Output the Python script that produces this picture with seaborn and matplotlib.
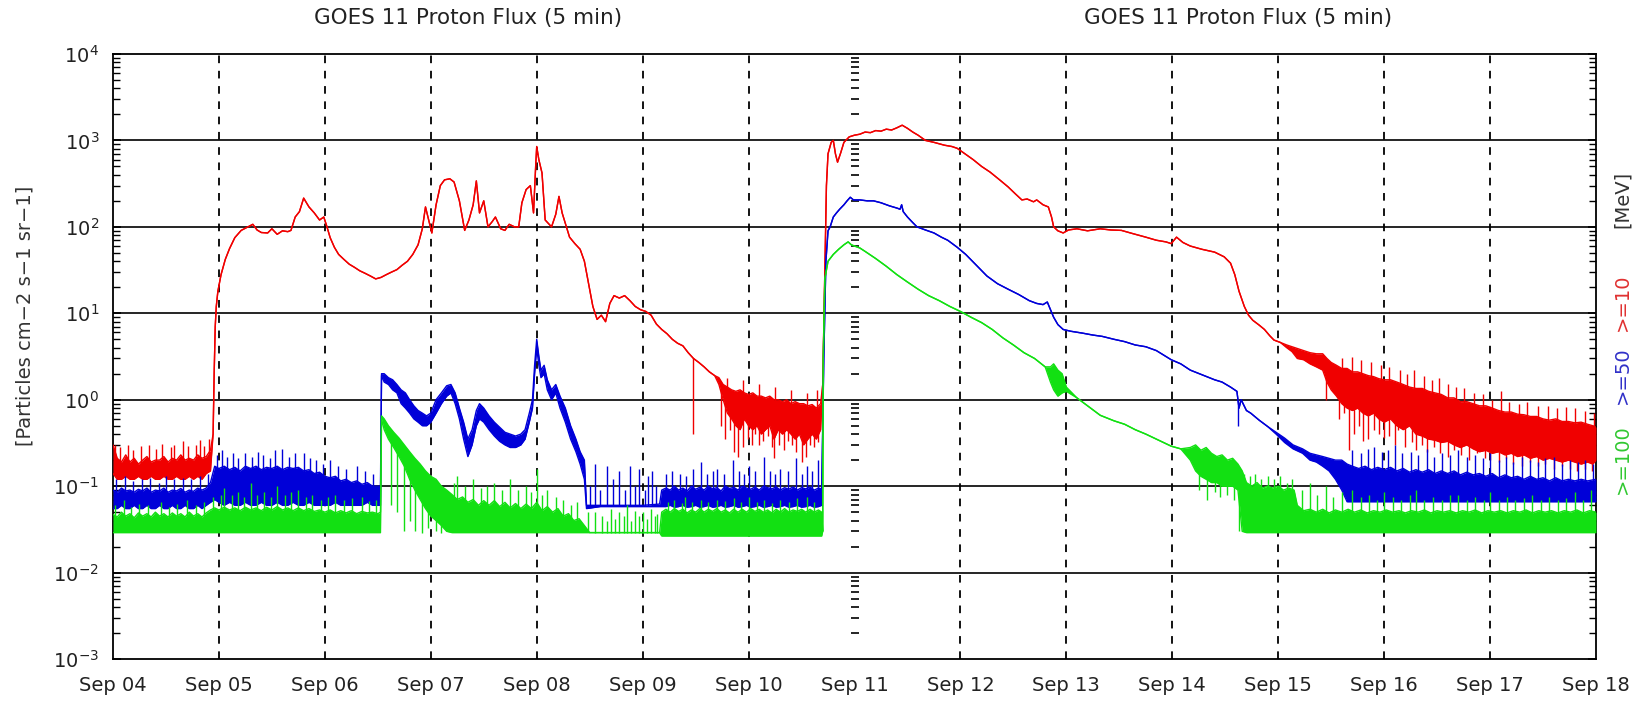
import numpy as np
import pandas as pd
import matplotlib
matplotlib.use("Agg")
import matplotlib.pyplot as plt
from matplotlib.ticker import LogLocator, NullFormatter, FixedLocator
import seaborn as sns

# ---------------------------------------------------------------- data
# time in days after 2005-09-04 00:00 UT, flux in particles cm-2 s-1 sr-1
day_labels = ["Sep 04", "Sep 05", "Sep 06", "Sep 07", "Sep 08", "Sep 09", "Sep 10",
              "Sep 11", "Sep 12", "Sep 13", "Sep 14", "Sep 15", "Sep 16", "Sep 17", "Sep 18"]

# >=10 MeV : lower / upper envelope of the 5-min trace
red_t = [0.00, 0.04, 0.08, 0.12, 0.16, 0.20, 0.24, 0.28, 0.32, 0.36, 0.40, 0.44, 0.48, 0.52,
         0.56, 0.60, 0.64, 0.68, 0.72, 0.76, 0.80, 0.84, 0.88, 0.92, 0.945, 0.955, 0.965, 0.975,
         0.99, 1.02, 1.06, 1.10, 1.15, 1.21, 1.26, 1.32, 1.36, 1.40, 1.46, 1.50, 1.55, 1.60,
         1.65, 1.68, 1.72, 1.76, 1.80, 1.85, 1.90, 1.95, 1.99, 2.02, 2.05, 2.09, 2.13, 2.18,
         2.23, 2.28, 2.33, 2.38, 2.43, 2.48, 2.53, 2.58, 2.63, 2.68, 2.73, 2.78, 2.83, 2.88,
         2.92, 2.95, 2.98, 3.01, 3.05, 3.09, 3.13, 3.18, 3.22, 3.27, 3.32, 3.36, 3.40, 3.43,
         3.46, 3.50, 3.54, 3.58, 3.61, 3.66, 3.70, 3.74, 3.79, 3.83, 3.86, 3.90, 3.94, 3.97,
         3.99, 4.00, 4.02, 4.05, 4.08, 4.14, 4.18, 4.21, 4.24, 4.28, 4.31, 4.36, 4.41, 4.45,
         4.49, 4.53, 4.57, 4.61, 4.65, 4.69, 4.73, 4.78, 4.83, 4.88, 4.93, 4.98, 5.03, 5.08,
         5.13, 5.18, 5.23, 5.28, 5.33, 5.38, 5.43, 5.48, 5.53, 5.58, 5.63, 5.68, 5.72, 5.76,
         5.80, 5.84, 5.88, 5.92, 5.96, 6.00, 6.04, 6.08, 6.12, 6.16, 6.20, 6.24, 6.28, 6.32,
         6.36, 6.40, 6.44, 6.48, 6.52, 6.56, 6.60, 6.64, 6.68, 6.70, 6.72, 6.735, 6.75, 6.78,
         6.80, 6.82, 6.84, 6.87, 6.90, 6.95, 7.00, 7.05, 7.10, 7.15, 7.20, 7.25, 7.30, 7.35,
         7.40, 7.45, 7.50, 7.55, 7.60, 7.67, 7.75, 7.85, 7.92, 7.97, 8.05, 8.12, 8.20, 8.28,
         8.37, 8.45, 8.52, 8.58, 8.63, 8.69, 8.72, 8.78, 8.83, 8.86, 8.88, 8.92, 8.97, 9.02,
         9.10, 9.20, 9.32, 9.42, 9.52, 9.62, 9.75, 9.85, 9.94, 9.99, 10.04, 10.10, 10.17, 10.28,
         10.40, 10.49, 10.55, 10.59, 10.63, 10.68, 10.72, 10.76, 10.82, 10.87, 10.92, 10.96,
         11.02, 11.08, 11.13, 11.18, 11.24, 11.30, 11.36, 11.42, 11.46, 11.50, 11.55, 11.60,
         11.65, 11.70, 11.75, 11.80, 11.85, 11.90, 11.95, 12.00, 12.06, 12.12, 12.18, 12.24,
         12.30, 12.36, 12.42, 12.48, 12.54, 12.60, 12.66, 12.72, 12.78, 12.84, 12.90, 12.96,
         13.02, 13.08, 13.14, 13.20, 13.26, 13.32, 13.38, 13.44, 13.50, 13.56, 13.62, 13.68,
         13.74, 13.80, 13.86, 13.92, 13.97, 14.00]
red_lo = [0.14, 0.12, 0.12, 0.13, 0.12, 0.12, 0.13, 0.12, 0.12, 0.13, 0.12, 0.12, 0.13, 0.12,
          0.12, 0.13, 0.12, 0.12, 0.13, 0.12, 0.13, 0.12, 0.14, 0.15, 0.4, 2, 7, 12,
          18, 28, 42, 56, 75, 91, 98, 107, 92, 86, 85, 95, 82, 90,
          88, 91, 130, 150, 215, 170, 145, 120, 130, 100, 75, 58, 48, 42,
          37, 34, 31, 29, 27, 25, 26, 28, 30, 32, 36, 40, 48, 62,
          95, 170, 120, 85, 180, 300, 350, 360, 330, 200, 91, 120, 180, 340,
          145, 200, 100, 115, 130, 95, 91, 107, 100, 100, 190, 270, 300, 145,
          500, 850, 600, 420, 120, 100, 140, 225, 145, 100, 76, 64, 55, 40,
          22, 12, 8.5, 9.5, 8, 13, 16, 15, 16, 14, 12, 11, 10.5, 9.5,
          7.5, 6.5, 5.8, 5.0, 4.5, 4.2, 3.5, 3.0, 2.7, 2.4, 2.1, 1.9, 1.5, 1.0,
          0.7, 0.6, 0.5, 0.45, 0.6, 0.5, 0.45, 0.5, 0.4, 0.45, 0.5, 0.35, 0.45, 0.4,
          0.45, 0.4, 0.35, 0.4, 0.3, 0.35, 0.4, 0.35, 0.45, 1.5, 30, 300, 700, 950,
          1000, 700, 560, 720, 950, 1100, 1150, 1180, 1250, 1230, 1300, 1280, 1350, 1320,
          1400, 1500, 1380, 1250, 1150, 1000, 950, 880, 850, 810, 690, 600, 500, 430,
          350, 290, 240, 205, 210, 195, 205, 180, 170, 130, 100, 90, 85, 92,
          95, 90, 95, 92, 91, 84, 76, 70, 67, 64, 76, 66, 60, 55,
          51, 45, 38, 28, 18, 12, 9.5, 8.3, 7.3, 6.5, 5.5, 4.9,
          4.6, 4.0, 3.6, 3.0, 2.9, 2.6, 2.4, 2.2, 1.6, 1.3, 1.1, 0.9,
          0.8, 0.75, 0.8, 0.7, 0.65, 0.7, 0.6, 0.55, 0.6, 0.5, 0.45, 0.5,
          0.4, 0.38, 0.35, 0.34, 0.32, 0.33, 0.3, 0.28, 0.3, 0.27, 0.25, 0.26,
          0.24, 0.25, 0.23, 0.24, 0.22, 0.23, 0.21, 0.22, 0.2, 0.21, 0.2, 0.19,
          0.2, 0.19, 0.18, 0.19, 0.18, 0.2]
red_hi = [0.30, 0.21, 0.19, 0.23, 0.19, 0.21, 0.18, 0.20, 0.22, 0.19, 0.2, 0.20, 0.22, 0.19,
          0.21, 0.2, 0.23, 0.20, 0.21, 0.2, 0.23, 0.21, 0.22, 0.26, 0.4, 2, 7, 12,
          18, 28, 42, 56, 75, 91, 98, 107, 92, 86, 85, 95, 82, 90,
          88, 91, 130, 150, 215, 170, 145, 120, 130, 100, 75, 58, 48, 42,
          37, 34, 31, 29, 27, 25, 26, 28, 30, 32, 36, 40, 48, 62,
          95, 170, 120, 85, 180, 300, 350, 360, 330, 200, 91, 120, 180, 340,
          145, 200, 100, 115, 130, 95, 91, 107, 100, 100, 190, 270, 300, 145,
          500, 850, 600, 420, 120, 100, 140, 225, 145, 100, 76, 64, 55, 40,
          22, 12, 8.5, 9.5, 8, 13, 16, 15, 16, 14, 12, 11, 10.5, 9.5,
          7.5, 6.5, 5.8, 5.0, 4.5, 4.2, 3.5, 3.0, 2.7, 2.4, 2.1, 1.9, 1.8, 1.5,
          1.4, 1.3, 1.25, 1.3, 1.2, 1.15, 1.2, 1.1, 1.1, 1.05, 1.1, 1.0, 1.0, 0.95,
          1.0, 0.9, 0.95, 0.9, 0.9, 0.85, 0.88, 0.8, 0.9, 1.5, 30, 300, 700, 950,
          1000, 700, 560, 720, 950, 1100, 1150, 1180, 1250, 1230, 1300, 1280, 1350, 1320,
          1400, 1500, 1380, 1250, 1150, 1000, 950, 880, 850, 810, 690, 600, 500, 430,
          350, 290, 240, 205, 210, 195, 205, 180, 170, 130, 100, 90, 85, 92,
          95, 90, 95, 92, 91, 84, 76, 70, 67, 64, 76, 66, 60, 55,
          51, 45, 38, 28, 18, 12, 9.5, 8.3, 7.3, 6.5, 5.5, 4.9,
          4.6, 4.3, 4.1, 3.9, 3.7, 3.5, 3.4, 3.4, 3.0, 2.7, 2.5, 2.3,
          2.3, 2.1, 2.1, 2.0, 1.9, 1.85, 1.75, 1.7, 1.7, 1.6, 1.5, 1.4,
          1.35, 1.35, 1.25, 1.2, 1.15, 1.05, 1.05, 0.95, 0.95, 0.9, 0.85, 0.85,
          0.8, 0.75, 0.72, 0.72, 0.68, 0.67, 0.64, 0.64, 0.6, 0.58, 0.6, 0.56,
          0.56, 0.54, 0.55, 0.52, 0.5, 0.48]
red_spike_t = [0.02, 0.07, 0.14, 0.19, 0.26, 0.34, 0.41, 0.46, 0.55, 0.58, 0.66, 0.71, 0.78,
               0.82, 0.86, 0.91,
               5.48, 5.74, 5.78, 5.82, 5.86, 5.90, 5.95, 5.99, 6.03, 6.06, 6.10, 6.14, 6.18,
               6.22, 6.24, 6.29, 6.33, 6.37, 6.41, 6.45, 6.50, 6.54, 6.58, 6.62, 6.66,
               5.80, 5.95, 6.10, 6.25, 6.40, 6.55, 6.65,
               11.45, 11.52, 11.57, 11.62, 11.67, 11.72, 11.76, 11.80, 11.85, 11.90, 11.95,
               12.00, 12.05, 12.10, 12.13, 12.20, 12.26, 12.30, 12.36, 12.40, 12.47, 12.53,
               12.60, 12.66, 12.73, 12.80, 12.88, 12.95, 13.00, 13.08, 13.15, 13.22, 13.30,
               13.38, 13.45, 13.52, 13.60, 13.68, 13.75, 13.82, 13.90, 13.96,
               11.60, 11.70, 11.78, 11.88, 11.97, 12.05, 12.15, 12.22, 12.28, 12.38, 12.45,
               12.52, 12.60, 12.68, 12.75, 12.85, 12.93, 13.02, 13.10, 13.18, 13.27, 13.35,
               13.45, 13.55, 13.63, 13.72, 13.80, 13.90, 13.98]
red_spike_v = [0.30, 0.28, 0.30, 0.26, 0.29, 0.30, 0.27, 0.31, 0.28, 0.30, 0.33, 0.29, 0.30,
               0.34, 0.29, 0.35,
               0.40, 0.50, 0.35, 0.45, 0.25, 0.22, 0.28, 0.35, 0.30, 0.40, 0.30, 0.33, 0.38,
               0.28, 0.21, 0.30, 0.26, 0.33, 0.30, 0.25, 0.19, 0.22, 0.30, 0.28, 0.32,
               1.8, 1.7, 1.5, 1.4, 1.3, 1.2, 1.3,
               1.0, 1.3, 0.6, 0.7, 0.26, 0.40, 0.50, 0.33, 0.35, 0.45, 0.40,
               0.36, 0.38, 0.30, 0.45, 0.28, 0.32, 0.26, 0.30, 0.25, 0.28, 0.24,
               0.22, 0.26, 0.23, 0.20, 0.24, 0.21, 0.20, 0.19, 0.21, 0.18, 0.17,
               0.19, 0.17, 0.18, 0.16, 0.17, 0.16, 0.15, 0.16, 0.15,
               3.0, 3.1, 2.9, 2.7, 2.5, 2.4, 2.2, 2.0, 2.2, 1.9, 1.7,
               1.8, 1.5, 1.4, 1.35, 1.2, 1.15, 1.0, 1.25, 0.95, 0.9, 0.95,
               0.85, 0.85, 0.8, 0.82, 0.8, 0.75, 0.7]

# >=50 MeV
blue_t = [0.00, 0.04, 0.08, 0.12, 0.16, 0.20, 0.24, 0.28, 0.32, 0.36, 0.40, 0.44, 0.48, 0.52,
          0.56, 0.60, 0.64, 0.68, 0.72, 0.76, 0.80, 0.84, 0.88, 0.92, 0.96, 1.00, 1.05, 1.10,
          1.15, 1.20, 1.25, 1.30, 1.35, 1.40, 1.45, 1.50, 1.55, 1.60, 1.65, 1.70, 1.75, 1.80,
          1.85, 1.90, 1.95, 2.00, 2.05, 2.10, 2.15, 2.20, 2.25, 2.30, 2.35, 2.40, 2.45, 2.50,
          2.525, 2.535, 2.56, 2.60, 2.64, 2.68, 2.72, 2.76, 2.80, 2.84, 2.88, 2.92, 2.96, 3.00,
          3.05, 3.10, 3.15, 3.19, 3.23, 3.27, 3.31, 3.35, 3.39, 3.43, 3.46, 3.50, 3.55, 3.60,
          3.65, 3.70, 3.75, 3.80, 3.85, 3.89, 3.93, 3.96, 3.98, 4.00, 4.02, 4.04, 4.07, 4.10,
          4.14, 4.18, 4.22, 4.27, 4.32, 4.37, 4.41, 4.45, 4.47, 4.60, 4.80, 5.00, 5.16, 5.18,
          5.22, 5.26, 5.30, 5.34, 5.38, 5.42, 5.46, 5.50, 5.54, 5.58, 5.62, 5.66, 5.70, 5.74,
          5.78, 5.82, 5.86, 5.90, 5.94, 5.98, 6.02, 6.06, 6.10, 6.14, 6.18, 6.22, 6.26, 6.30,
          6.34, 6.38, 6.42, 6.46, 6.50, 6.54, 6.58, 6.62, 6.66, 6.69, 6.71, 6.73, 6.75, 6.77,
          6.80, 6.83, 6.86, 6.90, 6.93, 6.96, 6.99, 7.05, 7.12, 7.18, 7.25, 7.33, 7.40, 7.43,
          7.445, 7.46, 7.50, 7.55, 7.59, 7.67, 7.75, 7.82, 7.88, 7.97, 8.05, 8.15, 8.25, 8.35,
          8.45, 8.55, 8.65, 8.72, 8.78, 8.82, 8.85, 8.88, 8.92, 8.97, 9.04, 9.15, 9.25, 9.34,
          9.45, 9.55, 9.65, 9.75, 9.85, 9.99, 10.08, 10.17, 10.30, 10.40, 10.47, 10.55, 10.61,
          10.63, 10.65, 10.70, 10.74, 10.82, 10.90, 10.98, 11.06, 11.14, 11.23, 11.30, 11.36,
          11.42, 11.48, 11.54, 11.60, 11.65, 11.70, 11.76, 11.82, 11.88, 11.94, 12.00, 12.06,
          12.12, 12.18, 12.24, 12.30, 12.36, 12.42, 12.48, 12.54, 12.60, 12.66, 12.72, 12.78,
          12.84, 12.90, 12.96, 13.02, 13.08, 13.14, 13.20, 13.26, 13.32, 13.38, 13.44, 13.50,
          13.56, 13.62, 13.68, 13.74, 13.80, 13.86, 13.92, 14.00]
blue_lo = [0.055, 0.055, 0.06, 0.055, 0.055, 0.06, 0.055, 0.055, 0.06, 0.055, 0.055, 0.06, 0.055, 0.055,
           0.06, 0.055, 0.055, 0.06, 0.055, 0.055, 0.06, 0.055, 0.06, 0.065, 0.07, 0.065, 0.06, 0.065,
           0.06, 0.06, 0.065, 0.06, 0.06, 0.065, 0.06, 0.06, 0.065, 0.06, 0.06, 0.065, 0.06, 0.06,
           0.065, 0.06, 0.06, 0.06, 0.06, 0.065, 0.06, 0.06, 0.06, 0.06, 0.06, 0.065, 0.06, 0.06,
           0.06, 1.9, 1.6, 1.5, 1.3, 1.2, 0.9, 0.8, 0.7, 0.6, 0.55, 0.5, 0.5, 0.55,
           0.7, 0.9, 1.1, 1.2, 0.9, 0.6, 0.35, 0.22, 0.3, 0.5, 0.6, 0.55, 0.45, 0.38,
           0.33, 0.3, 0.28, 0.28, 0.3, 0.35, 0.55, 0.8, 2.0, 4.0, 2.5, 1.8, 2.0, 1.3,
           1.0, 1.2, 0.8, 0.55, 0.35, 0.25, 0.18, 0.12, 0.055, 0.058, 0.058, 0.058, 0.058, 0.058,
           0.058, 0.06, 0.057, 0.058, 0.06, 0.057, 0.058, 0.06, 0.057, 0.058, 0.06, 0.057, 0.058, 0.06,
           0.057, 0.058, 0.06, 0.057, 0.058, 0.06, 0.057, 0.058, 0.06, 0.057, 0.058, 0.06, 0.057, 0.058,
           0.06, 0.057, 0.058, 0.06, 0.057, 0.058, 0.06, 0.057, 0.058, 0.06, 3, 40, 90, 100,
           130, 145, 160, 180, 200, 220, 205, 205, 200, 200, 190, 175, 165, 160,
           180, 150, 130, 112, 100, 92, 85, 76, 70, 58, 48, 36, 27, 22,
           19, 16.5, 14, 13, 12.6, 13.5, 11, 9, 7.4, 6.5, 6.2, 5.9, 5.6, 5.4,
           5.0, 4.7, 4.3, 4.1, 3.7, 2.9, 2.6, 2.2, 1.9, 1.7, 1.6, 1.4, 1.25,
           0.8, 1.0, 0.75, 0.7, 0.58, 0.49, 0.4, 0.32, 0.27, 0.24, 0.2, 0.19,
           0.17, 0.15, 0.12, 0.09, 0.066, 0.066, 0.066, 0.066, 0.066, 0.066, 0.066, 0.066,
           0.066, 0.066, 0.066, 0.066, 0.066, 0.066, 0.066, 0.066, 0.066, 0.066, 0.066, 0.066,
           0.066, 0.066, 0.066, 0.066, 0.066, 0.066, 0.066, 0.066, 0.066, 0.066, 0.066, 0.066,
           0.066, 0.066, 0.066, 0.066, 0.066, 0.066, 0.066, 0.066]
blue_hi = [0.09, 0.085, 0.095, 0.088, 0.09, 0.085, 0.092, 0.088, 0.095, 0.085, 0.09, 0.088, 0.095, 0.085,
           0.09, 0.088, 0.094, 0.085, 0.09, 0.087, 0.095, 0.09, 0.095, 0.11, 0.17, 0.16, 0.17, 0.155,
           0.165, 0.15, 0.17, 0.16, 0.17, 0.155, 0.165, 0.16, 0.17, 0.155, 0.165, 0.16, 0.165, 0.15,
           0.155, 0.14, 0.145, 0.13, 0.125, 0.13, 0.115, 0.12, 0.11, 0.115, 0.105, 0.11, 0.10, 0.10,
           0.10, 2.0, 2.0, 1.8, 1.7, 1.5, 1.3, 1.2, 1.0, 0.85, 0.75, 0.7, 0.65, 0.7,
           1.0, 1.2, 1.45, 1.5, 1.2, 0.8, 0.55, 0.35, 0.45, 0.75, 0.9, 0.8, 0.65, 0.55,
           0.48, 0.42, 0.4, 0.38, 0.4, 0.45, 0.7, 1.0, 2.5, 5.0, 3.2, 2.2, 2.5, 1.7,
           1.3, 1.5, 1.1, 0.8, 0.5, 0.35, 0.25, 0.2, 0.06, 0.06, 0.06, 0.06, 0.062, 0.09,
           0.095, 0.09, 0.1, 0.09, 0.095, 0.088, 0.1, 0.092, 0.097, 0.09, 0.1, 0.093, 0.096, 0.088,
           0.1, 0.094, 0.097, 0.09, 0.1, 0.095, 0.092, 0.098, 0.09, 0.1, 0.096, 0.093, 0.098, 0.09,
           0.096, 0.092, 0.098, 0.09, 0.096, 0.093, 0.098, 0.09, 0.095, 0.093, 3, 40, 90, 100,
           130, 145, 160, 180, 200, 220, 205, 205, 200, 200, 190, 175, 165, 160,
           180, 150, 130, 112, 100, 92, 85, 76, 70, 58, 48, 36, 27, 22,
           19, 16.5, 14, 13, 12.6, 13.5, 11, 9, 7.4, 6.5, 6.2, 5.9, 5.6, 5.4,
           5.0, 4.7, 4.3, 4.1, 3.7, 2.9, 2.6, 2.2, 1.9, 1.7, 1.6, 1.4, 1.25,
           0.8, 1.0, 0.75, 0.7, 0.58, 0.49, 0.42, 0.36, 0.30, 0.27, 0.24, 0.23,
           0.22, 0.21, 0.20, 0.2, 0.18, 0.17, 0.16, 0.17, 0.155, 0.165, 0.155, 0.165,
           0.15, 0.16, 0.145, 0.155, 0.145, 0.155, 0.14, 0.15, 0.14, 0.15, 0.135, 0.145,
           0.135, 0.14, 0.13, 0.14, 0.125, 0.135, 0.125, 0.13, 0.12, 0.13, 0.12, 0.125,
           0.115, 0.125, 0.115, 0.12, 0.115, 0.12, 0.115, 0.12]
blue_spike_t = [0.03, 0.11, 0.19, 0.27, 0.35, 0.43, 0.50, 0.58, 0.66, 0.74, 0.82, 0.90, 0.98,
                1.03, 1.08, 1.13, 1.18, 1.25, 1.31, 1.37, 1.42, 1.48, 1.53, 1.60, 1.66, 1.72,
                1.80, 1.86, 1.92, 1.98, 2.05, 2.12, 2.20, 2.30, 2.38, 2.45,
                4.50, 4.55, 4.60, 4.66, 4.72, 4.78, 4.83, 4.88, 4.93, 4.97, 5.02, 5.05, 5.09, 5.13,
                5.22, 5.28, 5.35, 5.41, 5.48, 5.55, 5.61, 5.66, 5.70, 5.77, 5.85, 5.91, 5.96,
                6.00, 6.06, 6.15, 6.20, 6.25, 6.30, 6.37, 6.45, 6.50, 6.55, 6.60, 6.66,
                10.62,
                11.70, 11.78, 11.85, 11.90, 11.98, 12.04, 12.10, 12.17, 12.25, 12.32, 12.40,
                12.47, 12.55, 12.62, 12.70, 12.78, 12.86, 12.93, 13.00, 13.08, 13.15, 13.22,
                13.30, 13.38, 13.45, 13.52, 13.60, 13.68, 13.75, 13.83, 13.90, 13.97]
blue_spike_v = [0.12, 0.13, 0.115, 0.12, 0.125, 0.11, 0.13, 0.12, 0.125, 0.12, 0.13, 0.14, 0.23,
                0.26, 0.22, 0.24, 0.21, 0.24, 0.22, 0.25, 0.23, 0.21, 0.26, 0.27, 0.22, 0.24,
                0.24, 0.21, 0.20, 0.18, 0.20, 0.17, 0.16, 0.17, 0.15, 0.14,
                0.10, 0.18, 0.09, 0.17, 0.12, 0.15, 0.09, 0.17, 0.10, 0.16, 0.09, 0.13, 0.15, 0.10,
                0.14, 0.15, 0.14, 0.13, 0.16, 0.19, 0.14, 0.15, 0.16, 0.14, 0.20, 0.15, 0.14,
                0.17, 0.15, 0.22, 0.15, 0.14, 0.16, 0.15, 0.21, 0.14, 0.17, 0.15, 0.20,
                0.50,
                0.26, 0.24, 0.27, 0.28, 0.25, 0.26, 0.30, 0.24, 0.25, 0.23, 0.27,
                0.22, 0.24, 0.23, 0.26, 0.22, 0.23, 0.21, 0.24, 0.20, 0.22, 0.19,
                0.22, 0.20, 0.19, 0.21, 0.22, 0.18, 0.20, 0.19, 0.20, 0.18]

# >=100 MeV
green_t = [0.00, 0.04, 0.08, 0.12, 0.16, 0.20, 0.24, 0.28, 0.32, 0.36, 0.40, 0.44, 0.48, 0.52,
           0.56, 0.60, 0.64, 0.68, 0.72, 0.76, 0.80, 0.84, 0.88, 0.92, 0.96, 1.00, 1.05, 1.10,
           1.15, 1.20, 1.25, 1.30, 1.35, 1.40, 1.45, 1.50, 1.55, 1.60, 1.65, 1.70, 1.75, 1.80,
           1.85, 1.90, 1.95, 2.00, 2.05, 2.10, 2.15, 2.20, 2.25, 2.30, 2.35, 2.40, 2.45, 2.50,
           2.525, 2.535, 2.56, 2.60, 2.65, 2.70, 2.75, 2.80, 2.85, 2.90, 2.95, 3.00, 3.05, 3.10,
           3.15, 3.20, 3.25, 3.30, 3.35, 3.40, 3.45, 3.50, 3.55, 3.60, 3.65, 3.70, 3.75, 3.80,
           3.85, 3.90, 3.95, 4.00, 4.05, 4.10, 4.15, 4.20, 4.25, 4.30, 4.35, 4.40, 4.45, 4.50,
           4.80, 5.16, 5.18, 5.22, 5.26, 5.30, 5.34, 5.38, 5.42, 5.46, 5.50, 5.54, 5.58, 5.62,
           5.66, 5.70, 5.74, 5.78, 5.82, 5.86, 5.90, 5.94, 5.98, 6.02, 6.06, 6.10, 6.14, 6.18,
           6.22, 6.26, 6.30, 6.34, 6.38, 6.42, 6.46, 6.50, 6.54, 6.58, 6.62, 6.66, 6.69, 6.70,
           6.705, 6.72, 6.75, 6.80, 6.85, 6.90, 6.94, 6.97, 7.00, 7.05, 7.10, 7.20, 7.30, 7.40,
           7.50, 7.60, 7.70, 7.80, 7.90, 8.00, 8.10, 8.20, 8.30, 8.40, 8.50, 8.60, 8.70, 8.80,
           8.85, 8.88, 8.92, 8.96, 9.00, 9.10, 9.20, 9.32, 9.45, 9.55, 9.65, 9.75, 9.85, 9.99,
           10.08, 10.17, 10.22, 10.27, 10.32, 10.37, 10.42, 10.47, 10.52, 10.57, 10.62, 10.66,
           10.70, 10.75, 10.80, 10.85, 10.90, 10.95, 11.00, 11.05, 11.10, 11.15, 11.18, 11.24,
           11.30, 11.36, 11.42, 11.48, 11.54, 11.60, 11.66, 11.72, 11.78, 11.84, 11.90, 11.96,
           12.02, 12.08, 12.14, 12.20, 12.26, 12.32, 12.38, 12.44, 12.50, 12.56, 12.62, 12.68,
           12.74, 12.80, 12.86, 12.92, 12.98, 13.04, 13.10, 13.16, 13.22, 13.28, 13.34, 13.40,
           13.46, 13.52, 13.58, 13.64, 13.70, 13.76, 13.82, 13.88, 13.94, 14.00]
green_lo = [
    0.029, 0.029, 0.029, 0.029, 0.029, 0.029, 0.029, 0.029, 0.029, 0.029, 0.029, 0.029, 0.029, 0.029,
    0.029, 0.029, 0.029, 0.029, 0.029, 0.029, 0.029, 0.029, 0.029, 0.029, 0.029, 0.029, 0.029, 0.029,
    0.029, 0.029, 0.029, 0.029, 0.029, 0.029, 0.029, 0.029, 0.029, 0.029, 0.029, 0.029, 0.029, 0.029,
    0.029, 0.029, 0.029, 0.029, 0.029, 0.029, 0.029, 0.029, 0.029, 0.029, 0.029, 0.029, 0.029, 0.029,
    0.029, 0.6, 0.45, 0.35, 0.28, 0.22, 0.17, 0.12, 0.09, 0.07, 0.055, 0.045, 0.04, 0.035,
    0.03, 0.029, 0.029, 0.029, 0.029, 0.029, 0.029, 0.029, 0.029, 0.029, 0.029, 0.029, 0.029, 0.029,
    0.029, 0.029, 0.029, 0.029, 0.029, 0.029, 0.029, 0.029, 0.029, 0.029, 0.029, 0.029, 0.029, 0.029,
    0.029, 0.029, 0.0265, 0.0265, 0.0265, 0.0265, 0.0265, 0.0265, 0.0265, 0.0265, 0.0265, 0.0265, 0.0265, 0.0265,
    0.0265, 0.0265, 0.0265, 0.0265, 0.0265, 0.0265, 0.0265, 0.0265, 0.0265, 0.0265, 0.0265, 0.0265, 0.0265, 0.0265,
    0.0265, 0.0265, 0.0265, 0.0265, 0.0265, 0.0265, 0.0265, 0.0265, 0.0265, 0.0265, 0.0265, 0.0265, 0.0265, 0.03,
    3, 25, 40, 48, 55, 62, 67, 62, 60, 57, 52, 43, 35, 28,
    23, 19, 16, 14, 12, 10.5, 9, 7.8, 6.5, 5.2, 4.3, 3.5, 3.0, 2.4,
    1.6, 1.3, 1.1, 1.2, 1.25, 1.05, 0.85, 0.66, 0.57, 0.52, 0.45, 0.40, 0.35, 0.29,
    0.27, 0.2, 0.15, 0.13, 0.12, 0.11, 0.11, 0.10, 0.10, 0.10, 0.09, 0.03,
    0.029, 0.029, 0.029, 0.029, 0.029, 0.029, 0.029, 0.029, 0.029, 0.029, 0.029, 0.029,
    0.029, 0.029, 0.029, 0.029, 0.029, 0.029, 0.029, 0.029, 0.029, 0.029, 0.029, 0.029,
    0.029, 0.029, 0.029, 0.029, 0.029, 0.029, 0.029, 0.029, 0.029, 0.029, 0.029, 0.029,
    0.029, 0.029, 0.029, 0.029, 0.029, 0.029, 0.029, 0.029, 0.029, 0.029, 0.029, 0.029,
    0.029, 0.029, 0.029, 0.029, 0.029, 0.029, 0.029, 0.029, 0.029, 0.029]
green_hi = [0.047, 0.044, 0.05, 0.045, 0.048, 0.043, 0.049, 0.045, 0.048, 0.044, 0.05, 0.045, 0.048, 0.044,
            0.049, 0.045, 0.048, 0.044, 0.05, 0.045, 0.048, 0.044, 0.049, 0.053, 0.056, 0.053, 0.057, 0.053,
            0.056, 0.052, 0.057, 0.053, 0.056, 0.052, 0.057, 0.053, 0.058, 0.053, 0.056, 0.052, 0.056, 0.052,
            0.055, 0.051, 0.053, 0.05, 0.053, 0.049, 0.052, 0.049, 0.052, 0.048, 0.051, 0.049, 0.05, 0.048,
            0.05, 0.65, 0.6, 0.5, 0.42, 0.36, 0.3, 0.25, 0.21, 0.18, 0.15, 0.13, 0.12, 0.10,
            0.09, 0.08, 0.07, 0.075, 0.065, 0.07, 0.06, 0.068, 0.06, 0.068, 0.058, 0.065, 0.056, 0.063,
            0.055, 0.062, 0.055, 0.065, 0.052, 0.058, 0.05, 0.055, 0.045, 0.048, 0.04, 0.042, 0.035, 0.029,
            0.029, 0.029, 0.05, 0.054, 0.05, 0.055, 0.051, 0.054, 0.049, 0.053, 0.05, 0.055, 0.05, 0.054,
            0.051, 0.055, 0.05, 0.053, 0.049, 0.054, 0.05, 0.054, 0.05, 0.055, 0.051, 0.054, 0.05, 0.053,
            0.049, 0.054, 0.05, 0.055, 0.05, 0.053, 0.051, 0.054, 0.05, 0.054, 0.05, 0.053, 0.05, 0.03,
            3, 25, 40, 48, 55, 62, 67, 62, 60, 57, 52, 43, 35, 28,
            23, 19, 16, 14, 12, 10.5, 9, 7.8, 6.5, 5.2, 4.3, 3.5, 3.0, 2.4,
            2.4, 2.6, 2.2, 2.0, 1.4, 1.05, 0.85, 0.66, 0.57, 0.52, 0.45, 0.40, 0.35, 0.29,
            0.27, 0.28, 0.30, 0.26, 0.28, 0.24, 0.22, 0.23, 0.20, 0.21, 0.18, 0.15,
            0.11, 0.10, 0.11, 0.095, 0.10, 0.095, 0.10, 0.09, 0.095, 0.09, 0.06, 0.052,
            0.054, 0.05, 0.054, 0.049, 0.053, 0.05, 0.054, 0.05, 0.053, 0.049, 0.052, 0.05,
            0.053, 0.05, 0.052, 0.049, 0.052, 0.05, 0.053, 0.049, 0.052, 0.05, 0.052, 0.049,
            0.052, 0.05, 0.053, 0.049, 0.052, 0.05, 0.052, 0.049, 0.052, 0.05, 0.053, 0.049,
            0.052, 0.05, 0.052, 0.049, 0.052, 0.05, 0.053, 0.049, 0.052, 0.05]
green_spike_t = [0.02, 0.10, 0.17, 0.25, 0.33, 0.45, 0.53, 0.60, 0.70, 0.78, 0.86, 0.94, 1.02,
                 1.05, 1.12, 1.18, 1.24, 1.30, 1.36, 1.43, 1.49, 1.55, 1.62, 1.68, 1.75, 1.82,
                 1.88, 1.96, 2.03, 2.10, 2.18, 2.26, 2.35, 2.42, 2.48,
                 2.62, 2.68, 2.75, 2.80, 2.85, 2.92, 2.97, 3.05, 3.10,
                 3.22, 3.25, 3.32, 3.40, 3.47, 3.53, 3.60, 3.67, 3.75, 3.82, 3.90, 3.95, 4.00,
                 4.05, 4.10, 4.18, 4.25, 4.32, 4.38,
                 4.48, 4.55, 4.62, 4.66, 4.70, 4.74, 4.78, 4.82, 4.85, 4.89, 4.93, 4.97, 5.00,
                 5.04, 5.08, 5.12, 5.14,
                 5.24, 5.30, 5.37, 5.40, 5.47, 5.55, 5.62, 5.70, 5.78, 5.86, 5.93, 6.00, 6.08,
                 6.15, 6.22, 6.30, 6.38, 6.46, 6.55, 6.62,
                 10.25, 10.33, 10.40, 10.45, 10.52, 10.58, 10.63,
                 10.68, 10.73, 10.78, 10.84, 10.90, 10.96, 11.02, 11.08, 11.13,
                 11.22, 11.30, 11.37, 11.45, 11.52, 11.60, 11.70, 11.78, 11.86, 11.93, 12.00,
                 12.08, 12.16, 12.24, 12.30, 12.38, 12.46, 12.55, 12.62, 12.70, 12.78, 12.86,
                 12.94, 13.00, 13.08, 13.16, 13.24, 13.32, 13.40, 13.48, 13.56, 13.64, 13.72,
                 13.80, 13.88, 13.95]
green_spike_v = [0.06, 0.07, 0.058, 0.062, 0.06, 0.065, 0.058, 0.062, 0.07, 0.06, 0.065, 0.075, 0.08,
                 0.095, 0.08, 0.085, 0.075, 0.11, 0.08, 0.085, 0.075, 0.10, 0.08, 0.085, 0.09, 0.075,
                 0.08, 0.07, 0.075, 0.08, 0.07, 0.072, 0.075, 0.068, 0.07,
                 0.06, 0.05, 0.03, 0.04, 0.03, 0.029, 0.033, 0.03, 0.029,
                 0.11, 0.13, 0.10, 0.12, 0.095, 0.10, 0.11, 0.09, 0.12, 0.09, 0.10, 0.085, 0.16,
                 0.08, 0.09, 0.075, 0.07, 0.06, 0.065,
                 0.05, 0.05, 0.045, 0.04, 0.055, 0.042, 0.05, 0.045, 0.06, 0.04, 0.052, 0.045, 0.05,
                 0.042, 0.055, 0.045, 0.048,
                 0.065, 0.07, 0.064, 0.075, 0.066, 0.07, 0.065, 0.07, 0.068, 0.072, 0.065, 0.075, 0.066,
                 0.07, 0.064, 0.07, 0.066, 0.072, 0.075, 0.066,
                 0.09, 0.07, 0.085, 0.075, 0.08, 0.07, 0.03,
                 0.14, 0.13, 0.14, 0.12, 0.13, 0.12, 0.13, 0.11, 0.12,
                 0.09, 0.11, 0.08, 0.10, 0.075, 0.085, 0.09, 0.075, 0.08, 0.07, 0.085,
                 0.075, 0.07, 0.08, 0.09, 0.07, 0.075, 0.07, 0.078, 0.08, 0.07, 0.075,
                 0.07, 0.085, 0.07, 0.075, 0.07, 0.072, 0.08, 0.07, 0.075, 0.07, 0.072,
                 0.085, 0.07, 0.09]

series = [
    (">=10", "#f00000", red_t, red_lo, red_hi, red_spike_t, red_spike_v),
    (">=50", "#0000d8", blue_t, blue_lo, blue_hi, blue_spike_t, blue_spike_v),
    (">=100", "#12e012", green_t, green_lo, green_hi, green_spike_t, green_spike_v),
]

# ---------------------------------------------------------------- style
sns.set_theme(style="white")
plt.rcParams.update({
    "font.family": ["DejaVu Sans"],
    "mathtext.fontset": "dejavusans",
    "lines.scale_dashes": False,
    "axes.edgecolor": "black",
    "axes.linewidth": 1.3,
    "xtick.color": "black",
    "ytick.color": "black",
})

fig = plt.figure(figsize=(16.46, 7.03), dpi=100)
ax = fig.add_axes([113 / 1646, 1 - 659 / 703, (1596 - 113) / 1646, (659 - 54) / 703])
ax.set_yscale("log")
ax.set_xlim(0, 14)
ax.set_ylim(1e-3, 1e4)

# reference grid: solid decades, dashed day boundaries
for e in range(-2, 4):
    ax.axhline(10.0 ** e, color="black", lw=1.2, zorder=1)
for d in range(1, 14):
    if d != 7:
        ax.axvline(d, color="black", lw=1.3, ls=(0, (5.5, 5.5)), zorder=1)

# the panel seam at Sep 11 is marked by a column of minor-tick marks
seam_y = [k * 10.0 ** e for e in range(-3, 4) for k in range(2, 10)]
sns.scatterplot(x=[7.0] * len(seam_y), y=seam_y, marker="_", s=28, color="black",
                linewidth=1.2, ax=ax, zorder=2, legend=False)

for name, color, t, lo, hi, st, sv in series:
    t = np.asarray(t, float)
    lo = np.asarray(lo, float)
    hi = np.asarray(hi, float)
    ax.fill_between(t, lo, hi, color=color, lw=0, zorder=3)
    edges = pd.DataFrame({
        "day": np.r_[t, t],
        "flux": np.r_[lo, hi],
        "edge": ["lo"] * len(t) + ["hi"] * len(t),
    })
    sns.lineplot(data=edges, x="day", y="flux", units="edge", estimator=None, sort=False,
                 color=color, lw=1.0, ax=ax, zorder=3, legend=False)
    st = np.asarray(st, float)
    sv = np.asarray(sv, float)
    base = np.exp(np.interp(st, t, 0.5 * (np.log(lo) + np.log(hi))))
    ax.vlines(st, np.minimum(base, sv), np.maximum(base, sv), color=color, lw=1.0, zorder=3)

# axes, ticks
ax.set_xlabel("")
ax.set_ylabel("")
ax.xaxis.set_major_locator(FixedLocator(range(15)))
ax.set_xticklabels(day_labels)
ax.tick_params(axis="x", which="both", length=0, pad=12, labelsize=14, colors="#222222")
ax.yaxis.set_major_locator(LogLocator(base=10, numticks=20))
ax.yaxis.set_minor_locator(LogLocator(base=10, subs=np.arange(2, 10), numticks=20))
ax.yaxis.set_minor_formatter(NullFormatter())
ax.tick_params(axis="y", which="major", direction="in", length=6, width=1.2,
               left=True, right=True, pad=10, labelsize=14, labelcolor="#222222")
ax.tick_params(axis="y", which="minor", direction="in", length=5, width=1.0,
               left=True, right=True)
for s in ax.spines.values():
    s.set_visible(True)
    s.set_color("black")
    s.set_linewidth(1.3)

# titles of the two seven-day panels
fig.text(468 / 1646, 1 - 18 / 703, "GOES 11 Proton Flux (5 min)", ha="center", va="center",
         fontsize=15.5, color="#222222")
fig.text(1238 / 1646, 1 - 18 / 703, "GOES 11 Proton Flux (5 min)", ha="center", va="center",
         fontsize=15.5, color="#222222")

fig.text(25 / 1646, 1 - 316 / 703, "[Particles cm\u22122 s\u22121 sr\u22121]", rotation=90,
         ha="center", va="center", fontsize=14, color="#333333")

# energy channel labels at the right
fig.text(1622 / 1646, 1 - 199 / 703, "[MeV]", rotation=90, ha="center", va="center",
         fontsize=14, color="#333333")
for (name, color, *_), yc, tc in zip(series, [302, 375, 459], ["#e03030", "#3030c8", "#30c830"]):
    fig.text(1622 / 1646, 1 - yc / 703, name, rotation=90, ha="center", va="center",
             fontsize=14, color=tc)

fig.savefig("out.png", dpi=100, facecolor="white")
